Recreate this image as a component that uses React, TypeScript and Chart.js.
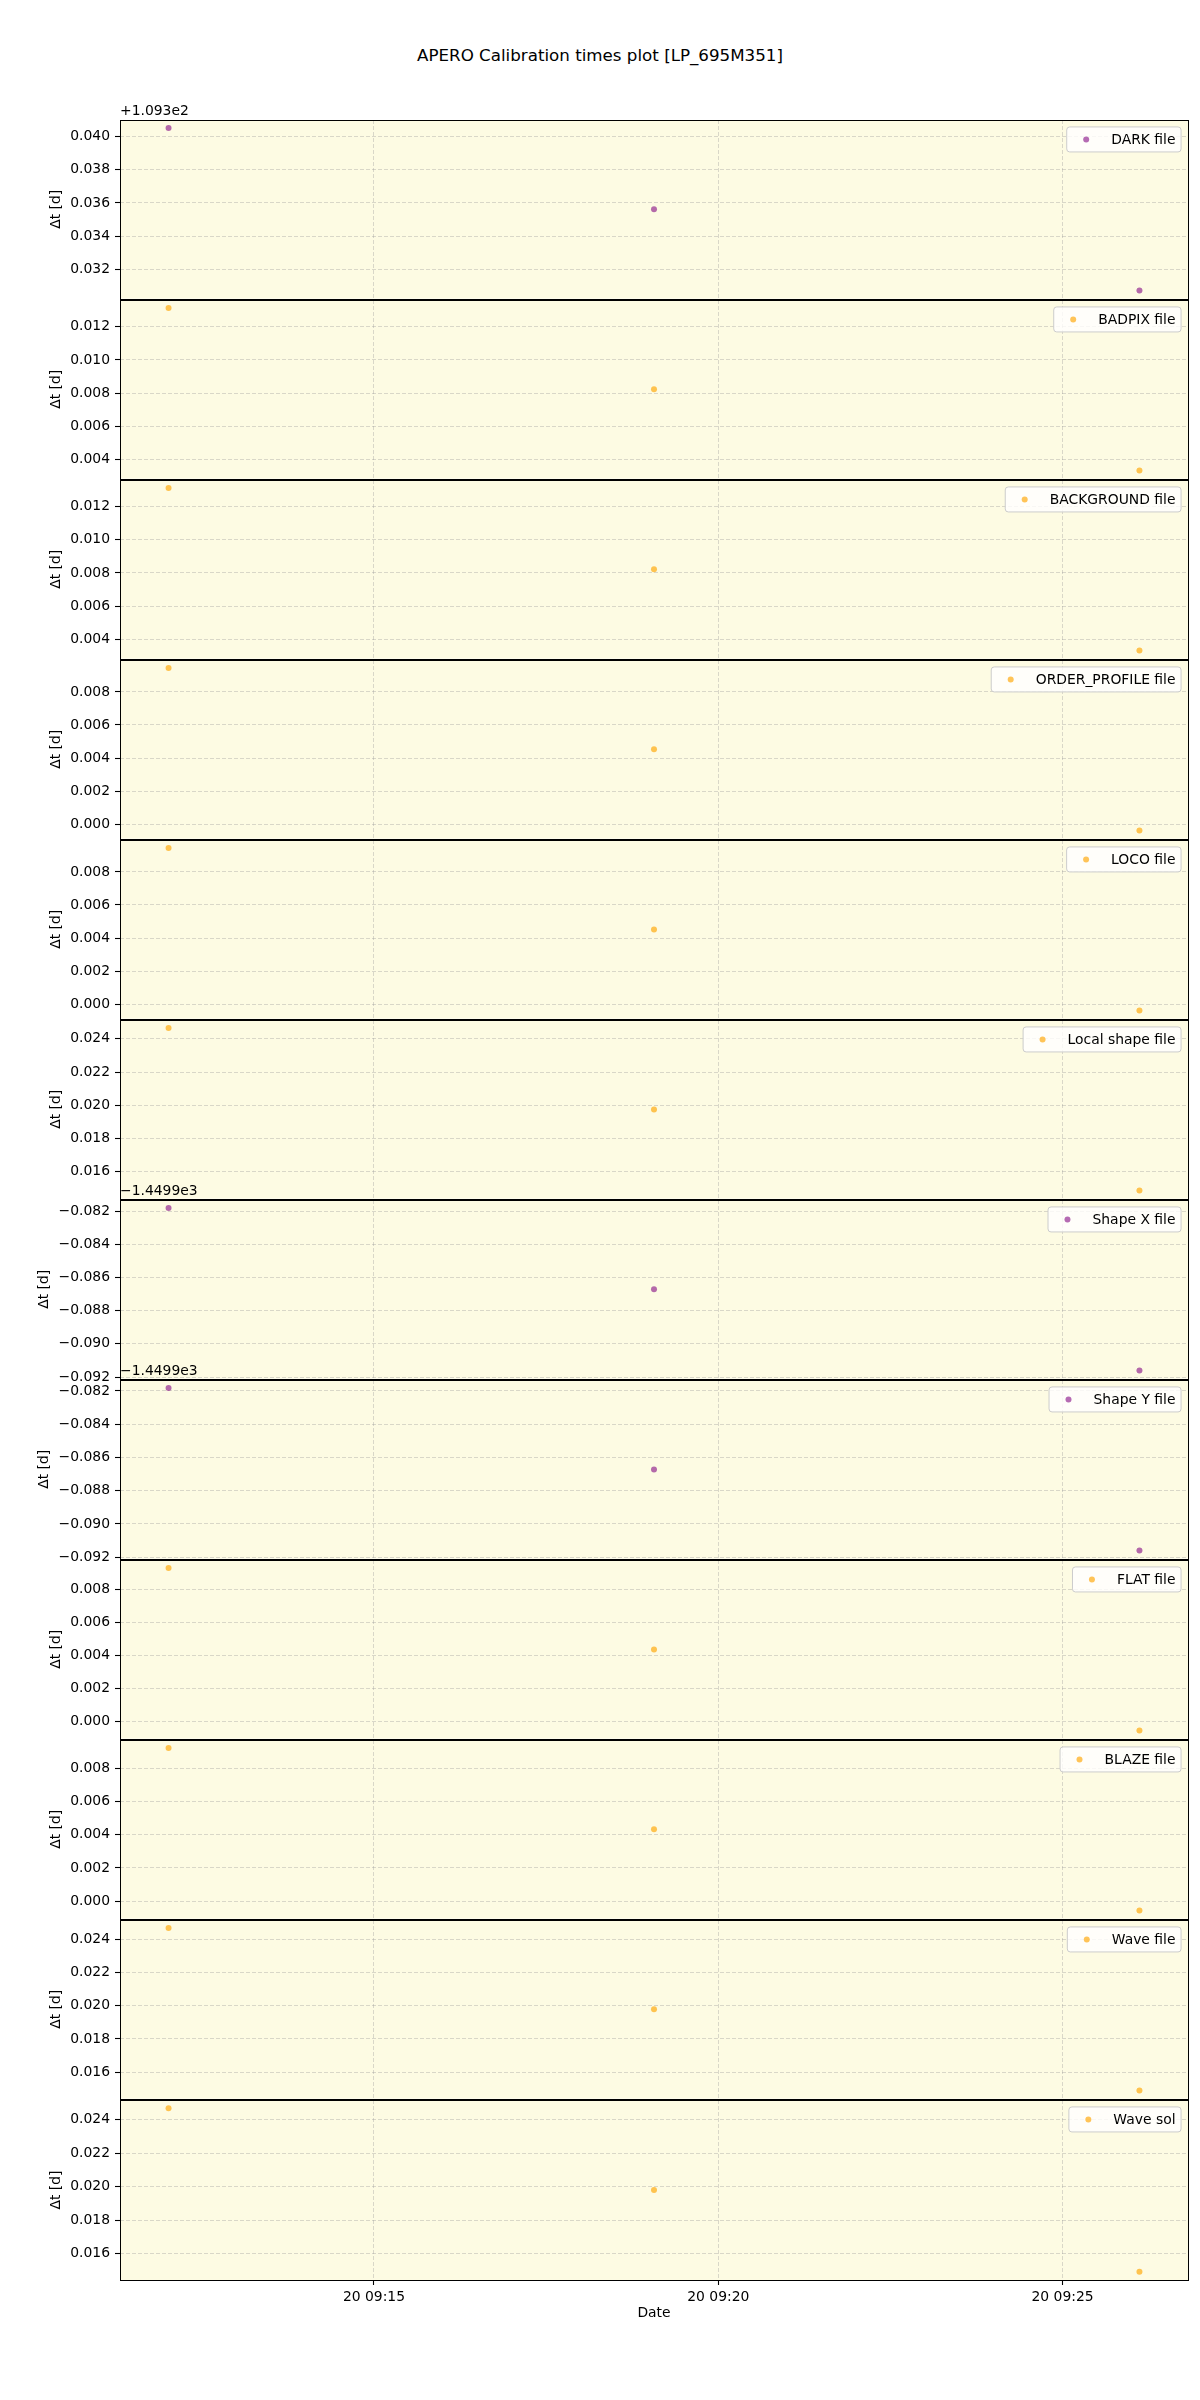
import { useEffect, useRef } from 'react';
import { Chart, registerables } from 'chart.js';

Chart.register(...registerables);

Chart.defaults.font.family = "'DejaVu Sans', sans-serif";
Chart.defaults.font.size = 13.9;
Chart.defaults.color = '#000';

// ---- data ----
const fileLabels = [
  'DARK file', 'BADPIX file', 'BACKGROUND file', 'ORDER_PROFILE file', 'LOCO file', 'Local shape file',
  'Shape X file', 'Shape Y file', 'FLAT file', 'BLAZE file', 'Wave file', 'Wave sol',
];
const obsTimes = ['09:12:01', '09:19:04', '09:26:07'];

const darkDt = [109.34052, 109.33562, 109.33071];
const badpixDt = [0.01311, 0.00824, 0.00336];
const backgroundDt = [0.01309, 0.00822, 0.00334];
const orderProfileDt = [0.00944, 0.00453, -0.00039];
const locoDt = [0.00944, 0.00452, -0.00039];
const localShapeDt = [0.02464, 0.01975, 0.01487];
const shapeXDt = [-1449.98181, -1449.98671, -1449.99161];
const shapeYDt = [-1449.98183, -1449.98672, -1449.99160];
const flatDt = [0.00927, 0.00435, -0.00056];
const blazeDt = [0.00922, 0.00433, -0.00057];
const waveFileDt = [0.02466, 0.01978, 0.01490];
const waveSolDt = [0.02468, 0.01980, 0.01493];

const panelDt = [
  darkDt, badpixDt, backgroundDt, orderProfileDt, locoDt, localShapeDt,
  shapeXDt, shapeYDt, flatDt, blazeDt, waveFileDt, waveSolDt,
];

// matplotlib-style axis offsets (value shown = tick - offset)
const offsetValues = [109.3, 0, 0, 0, 0, 0, -1449.9, -1449.9, 0, 0, 0, 0];
const offsetLabels = ['+1.093e2', '', '', '', '', '', '\u22121.4499e3', '\u22121.4499e3', '', '', '', ''];
const yTickStep = 0.002;

const xTickTimes = ['09:15:00', '09:20:00', '09:25:00'];
const xTickLabels = ['20 09:15', '20 09:20', '20 09:25'];

// ---- styling / layout ----
const PURPLE_FILES = new Set(['DARK file', 'Shape X file', 'Shape Y file']);
const PURPLE = 'rgba(128, 0, 128, 0.58)';
const ORANGE = 'rgba(255, 165, 0, 0.65)';
const BG = '#fdfbe3';
const GRID = 'rgba(150, 150, 150, 0.45)';
const FS = 13.9;

const PANEL_TOP = 120;
const PANEL_H = 180;
const PAD_T = 30;
const PAD_B = 12;
const X_AXIS_H = 50;
const RIGHT_PAD = 12;

const toMinutes = (t: string) => {
  const [h, m, s] = t.split(':').map(Number);
  return h * 60 + m + s / 60;
};
const obsMinutes = obsTimes.map(toMinutes);
const xTickMinutes = xTickTimes.map(toMinutes);

const fmt = (v: number) => {
  let s = v.toFixed(3);
  if (s === '-0.000') s = '0.000';
  return s.replace('-', '\u2212');
};

function Panel({ index }: { index: number }) {
  const canvasRef = useRef<HTMLCanvasElement>(null);
  const isLast = index === fileLabels.length - 1;
  const height = PAD_T + PANEL_H + (isLast ? X_AXIS_H : PAD_B);

  useEffect(() => {
    if (!canvasRef.current) return;
    const values = panelDt[index];
    const off = offsetValues[index];
    const label = fileLabels[index];
    const colour = PURPLE_FILES.has(label) ? PURPLE : ORANGE;

    const lo = Math.min(...values);
    const hi = Math.max(...values);
    const yMin = lo - (hi - lo) * 0.05;
    const yMax = hi + (hi - lo) * 0.05;
    const xLo = Math.min(...obsMinutes);
    const xHi = Math.max(...obsMinutes);
    const xMin = xLo - (xHi - xLo) * 0.05;
    const xMax = xHi + (xHi - xLo) * 0.05;
    const wideLabels = yMax - off < 0;

    const decor = {
      id: 'panelDecor',
      beforeDraw(chart: Chart) {
        const { ctx, chartArea: a } = chart;
        ctx.save();
        ctx.fillStyle = BG;
        ctx.fillRect(a.left, a.top, a.right - a.left, a.bottom - a.top);
        ctx.restore();
      },
      afterDraw(chart: Chart) {
        const { ctx, chartArea: a } = chart;
        ctx.save();
        // spines: 1px lines on shared pixel rows so adjacent panels overlap
        const l = Math.round(a.left) + 0.5;
        const t = Math.round(a.top) + 0.5;
        const r = Math.round(a.right) + 0.5;
        const b = Math.round(a.bottom) + 0.5;
        ctx.strokeStyle = '#000';
        ctx.lineWidth = 1;
        ctx.strokeRect(l, t, r - l, b - t);

        // offset text
        ctx.font = `${FS}px 'DejaVu Sans', sans-serif`;
        if (offsetLabels[index]) {
          ctx.fillStyle = '#000';
          ctx.textAlign = 'left';
          ctx.textBaseline = 'bottom';
          ctx.fillText(offsetLabels[index], a.left, a.top - 2);
        }

        // legend (upper right, inside)
        const em = FS;
        const tw = ctx.measureText(label).width;
        const boxW = 0.4 * em + 2 * em + 0.8 * em + tw + 0.4 * em;
        const boxH = 25;
        const bx = a.right - 0.5 * em - boxW;
        const by = a.top + 0.5 * em;
        ctx.beginPath();
        ctx.roundRect(bx, by, boxW, boxH, 3);
        ctx.fillStyle = 'rgba(255, 255, 255, 0.8)';
        ctx.fill();
        ctx.strokeStyle = '#cccccc';
        ctx.lineWidth = 1;
        ctx.stroke();
        const cy = by + boxH / 2;
        ctx.beginPath();
        ctx.arc(bx + 0.4 * em + em, cy, 3, 0, Math.PI * 2);
        ctx.fillStyle = colour;
        ctx.fill();
        ctx.fillStyle = '#000';
        ctx.textAlign = 'left';
        ctx.textBaseline = 'middle';
        ctx.fillText(label, bx + 3.2 * em, cy + 0.5);
        ctx.restore();
      },
    };

    const chart = new Chart(canvasRef.current, {
      type: 'scatter',
      data: {
        datasets: [{
          label,
          data: obsMinutes.map((x, j) => ({ x, y: values[j] })),
          backgroundColor: colour,
          borderWidth: 0,
          pointRadius: 3,
          pointHoverRadius: 3,
        }],
      },
      options: {
        animation: false,
        responsive: false,
        devicePixelRatio: 1,
        events: [],
        layout: { padding: { top: PAD_T, right: RIGHT_PAD, bottom: isLast ? 0 : PAD_B, left: 0 } },
        plugins: { legend: { display: false }, tooltip: { enabled: false } },
        scales: {
          x: {
            type: 'linear',
            min: xMin,
            max: xMax,
            afterBuildTicks: (s: any) => { s.ticks = xTickMinutes.map((value) => ({ value })); },
            afterFit: (s: any) => { s.height = isLast ? X_AXIS_H : 0; },
            ticks: {
              display: isLast,
              autoSkip: false,
              maxRotation: 0,
              padding: 4,
              font: { size: FS },
              callback: (_v: any, i: number) => xTickLabels[i],
            },
            grid: {
              color: GRID,
              lineWidth: 0.8,
              drawTicks: isLast,
              tickLength: 5,
              tickColor: '#000',
              tickWidth: 1.1,
              tickBorderDash: [],
            },
            border: { display: false, dash: [4, 2] },
            title: { display: isLast, text: 'Date', font: { size: FS }, padding: { top: 0, bottom: 8 } },
          },
          y: {
            type: 'linear',
            min: yMin,
            max: yMax,
            afterBuildTicks: (s: any) => {
              const k0 = Math.ceil((yMin - off) / yTickStep - 1e-6);
              const k1 = Math.floor((yMax - off) / yTickStep + 1e-6);
              const ticks = [];
              for (let k = k0; k <= k1; k++) ticks.push({ value: off + k * yTickStep });
              s.ticks = ticks;
            },
            afterFit: (s: any) => { s.width = 120; },
            ticks: {
              autoSkip: false,
              padding: 5,
              font: { size: FS },
              callback: (v: any) => fmt(Number(v) - off),
            },
            grid: {
              color: GRID,
              lineWidth: 0.8,
              drawTicks: true,
              tickLength: 5,
              tickColor: '#000',
              tickWidth: 1.1,
              tickBorderDash: [],
            },
            border: { display: false, dash: [4, 2] },
            title: {
              display: true,
              text: '\u0394t [d]',
              font: { size: FS },
              padding: { top: wideLabels ? 36 : 48, bottom: 0 },
            },
          },
        },
      },
      plugins: [decor],
    } as any);

    return () => chart.destroy();
  }, [index]);

  return (
    <canvas
      ref={canvasRef}
      width={1200}
      height={height}
      style={{
        position: 'absolute',
        left: 0,
        top: PANEL_TOP + index * PANEL_H - PAD_T,
        width: 1200,
        height,
        display: 'block',
      }}
    />
  );
}

export default function App() {
  return (
    <div style={{ position: 'absolute', left: 0, top: 0, width: 1200, height: 2400, background: '#fff' }}>
      <div
        style={{
          position: 'absolute',
          left: 0,
          top: 46,
          width: 1200,
          textAlign: 'center',
          fontFamily: "'DejaVu Sans', sans-serif",
          fontSize: 16.7,
          lineHeight: '18px',
          color: '#000',
        }}
      >
        APERO Calibration times plot [LP_695M351]
      </div>
      {fileLabels.map((_, i) => (
        <Panel key={i} index={i} />
      ))}
    </div>
  );
}
